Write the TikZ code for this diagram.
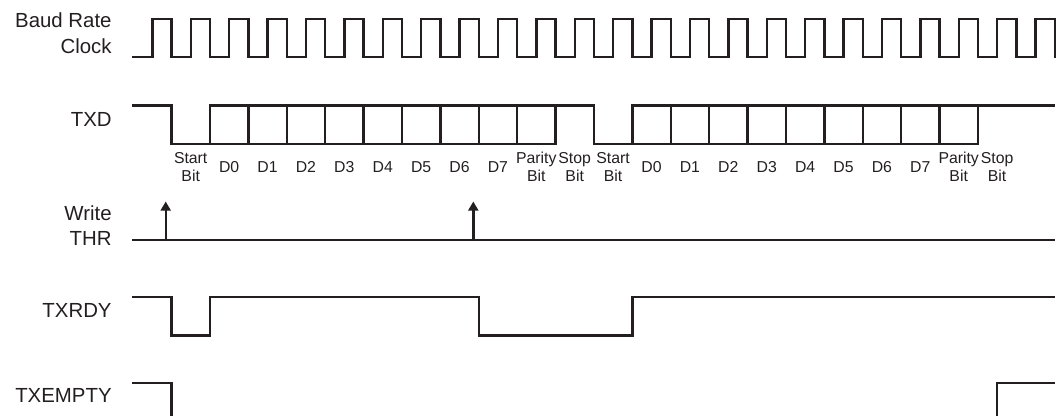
\documentclass[tikz,border=0pt]{standalone}
\usepackage{fontspec}
\setmainfont{Liberation Sans}
\usetikzlibrary{arrows.meta}
\definecolor{ink}{HTML}{231F20}
\newcommand\mytwoline[2]{\begin{tabular}[t]{@{}c@{}}#1\\#2\end{tabular}}
\begin{document}
\begin{tikzpicture}[x=0.5pt,y=-0.5pt,
  sig/.style={draw=ink,line width=1.2pt,line join=miter,line cap=rect},
  lbl/.style={font=\fontsize{10.2}{12}\selectfont,text=ink,inner sep=0pt,anchor=base east},
  bitlbl/.style={font=\fontsize{7.9}{9.2}\selectfont,text=ink,inner sep=0pt,anchor=base},
  wrarrow/.style={sig,line cap=butt,-{Triangle[length=4.6pt,width=5pt]}}]
\useasboundingbox (0,0) rectangle (1062,416);

% signal labels
\node[lbl] (baud1) at (112,28) {Baud Rate};
\node[lbl] (baud2) at (112,53.3) {Clock};
\node[lbl] (txd) at (112,126.7) {TXD};
\node[lbl] (wr1) at (112,220.7) {Write};
\node[lbl] (wr2) at (112,245.7) {THR};
\node[lbl] (txrdy) at (112,317.3) {TXRDY};
\node[lbl] (txe) at (112,402.7) {TXEMPTY};

% baud rate clock
\draw[sig] (133,57.3) \foreach \k in {0,...,23}{
  -- ({152.3+38.4*\k},57.3) -- ({152.3+38.4*\k},19)
  -- ({171.5+38.4*\k},19) -- ({171.5+38.4*\k},57.3) };

% TXD
\draw[sig] (133,105.7) -- (171.5,105.7) -- (171.5,144) -- (555.5,144);
\draw[sig] (210.1,144) -- (210.1,105.7) -- (594.1,105.7) -- (594.1,144)
  -- (632.3,144) -- (632.3,105.7) -- (1054,105.7);
\draw[sig] (632.3,144) -- (978.1,144);
\foreach \k in {2,...,10}{\draw[sig] ({171.5+38.4*\k},105.7) -- ({171.5+38.4*\k},144);}
\foreach \k in {13,...,21}{\draw[sig] ({171.5+38.4*\k},105.7) -- ({171.5+38.4*\k},144);}

% bit labels
\foreach \f/\o in {a/0,b/11}{
  \node[bitlbl] (start\f) at ({190.7+38.4*\o},163.3) {\mytwoline{Start}{Bit}};
  \foreach \d in {0,...,7}{
    \node[bitlbl] (d\d\f) at ({190.7+38.4*(\o+1+\d)},172.7) {D\d};
  }
  \node[bitlbl] (parity\f) at ({190.7+38.4*(\o+9)},163.3) {\mytwoline{Parity}{Bit}};
  \node[bitlbl] (stop\f) at ({190.7+38.4*(\o+10)},163.3) {\mytwoline{Stop}{Bit}};
}

% Write THR
\draw[sig] (133,240) -- (1054,240);
\coordinate (w1b) at (165.7,240);
\coordinate (w1t) at (165.7,201.5);
\coordinate (w2b) at (473.3,240);
\coordinate (w2t) at (473.3,201.5);
\draw[wrarrow] (w1b) -- (w1t);
\draw[wrarrow] (w2b) -- (w2t);

% TXRDY
\draw[sig] (133,297.3) -- (171.5,297.3) -- (171.5,335.7) -- (210.1,335.7)
  -- (210.1,297.3) -- (478.7,297.3) -- (478.7,335.7) -- (632.3,335.7)
  -- (632.3,297.3) -- (1054,297.3);

% TXEMPTY
\draw[sig] (133,383) -- (171.5,383) -- (171.5,418);
\draw[sig] (997,418) -- (997,383) -- (1054,383);
\end{tikzpicture}
\end{document}
